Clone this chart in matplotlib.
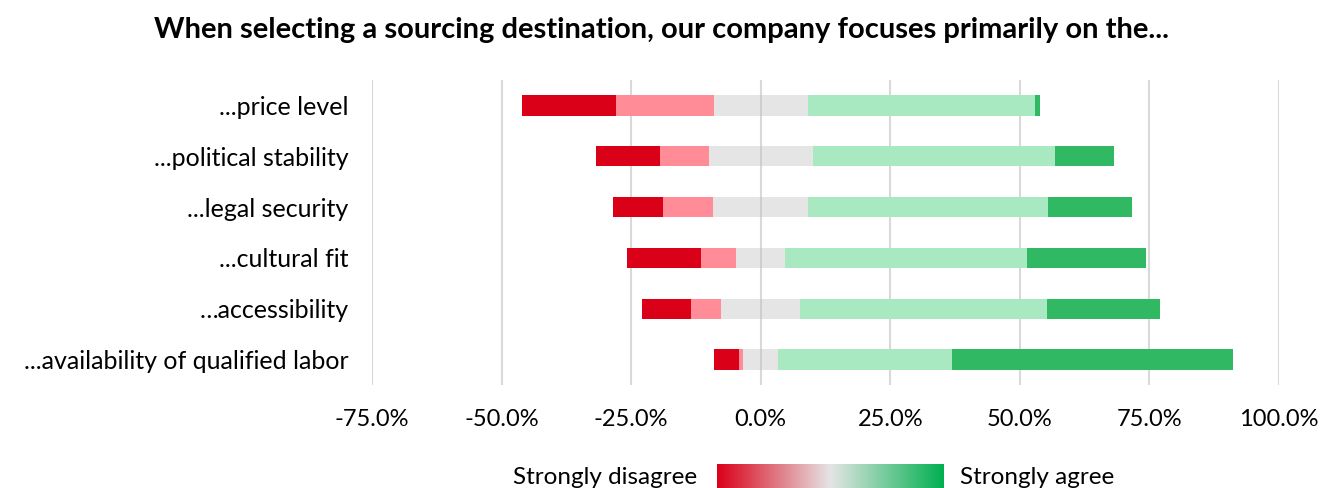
import numpy as np
import matplotlib.pyplot as plt
from matplotlib.colors import LinearSegmentedColormap
from matplotlib.ticker import FuncFormatter

plt.rcParams['font.family'] = ['Lato', 'DejaVu Sans']

# data (percent of respondents)
labels = ["...price level", "...political stability", "...legal security",
          "...cultural fit", "\u2026accessibility", "...availability of qualified labor"]
strongly_disagree = [18.2, 12.3, 9.6, 14.3, 9.5, 4.7]
disagree = [18.9, 9.5, 9.7, 6.7, 5.8, 0.9]
neutral = [18.1, 20.0, 18.3, 9.5, 15.2, 6.7]
agree = [43.9, 46.7, 46.2, 46.7, 47.6, 33.6]
strongly_agree = [0.9, 11.5, 16.3, 22.8, 21.9, 54.1]
ticks = [-75, -50, -25, 0, 25, 50, 75, 100]

series = [strongly_disagree, disagree, neutral, agree, strongly_agree]
colors = ["#DA0018", "#FF8C97", "#BFBFBF", "#A8E9C2", "#31B863"]
alphas = [1, 1, 0.4, 1, 1]

fig = plt.figure(figsize=(13.35, 4.88), dpi=100)
ax = fig.add_axes([372/1335, 1-385/488, (1279-372)/1335, 305/488])

y = np.arange(len(labels))
left = -(np.array(strongly_disagree) + np.array(disagree) + np.array(neutral) / 2)
for vals, c, a in zip(series, colors, alphas):
    ax.barh(y, vals, left=left, height=0.4, color=c, alpha=a, zorder=2)
    left = left + np.array(vals)

ax.set_xlim(-75, 100)
ax.set_ylim(len(labels) - 0.5, -0.5)
ax.set_xticks(ticks)
ax.xaxis.set_major_formatter(FuncFormatter(lambda v, p: f"{v:.1f}%"))
ax.set_yticks(y)
ax.set_yticklabels(labels)
ax.grid(axis='x', color='#D9D9D9', linewidth=1.5, zorder=0)
ax.set_axisbelow(True)
for s in ax.spines.values():
    s.set_visible(False)
ax.tick_params(axis='x', length=0, labelsize=17, pad=17)
ax.tick_params(axis='y', length=0, labelsize=18, pad=17)

fig.text(662/1335, 1-30/488, "When selecting a sourcing destination, our company focuses primarily on the...",
         ha='center', va='center', fontsize=21, fontweight='bold')

# gradient legend
cmap = LinearSegmentedColormap.from_list("lik", ["#DA0018", "#E5E5E5", "#00B050"])
lax = fig.add_axes([717/1335, -0.01, (944-717)/1335, 24/488 + 0.01])
lax.imshow(np.linspace(0, 1, 256)[None, :], aspect='auto', cmap=cmap)
lax.axis('off')
fig.text(697/1335, 1-477/488, "Strongly disagree", ha='right', va='center', fontsize=17.5)
fig.text(960/1335, 1-477/488, "Strongly agree", ha='left', va='center', fontsize=17.5)

fig.savefig("out.png", dpi=100)
